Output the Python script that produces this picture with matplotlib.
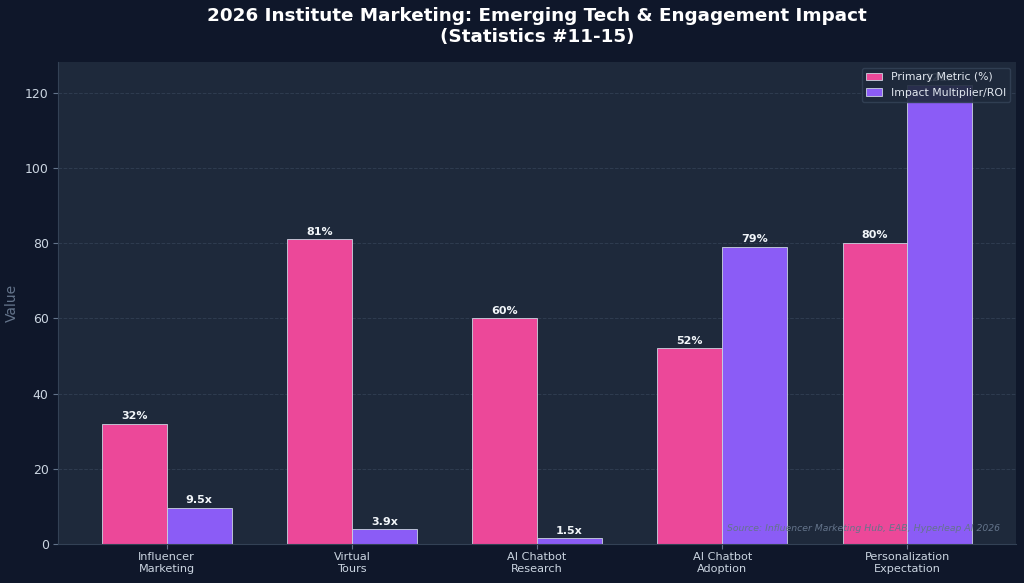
import matplotlib.pyplot as plt
import numpy as np

categories = ['Influencer\nMarketing', 'Virtual\nTours', 'AI Chatbot\nResearch',
              'AI Chatbot\nAdoption', 'Personalization\nExpectation']
primary = [32, 81, 60, 52, 80]
impact = [9.5, 3.9, 1.5, 79, 122]
primary_labels = ['32%', '81%', '60%', '52%', '80%']
impact_labels = ['9.5x', '3.9x', '1.5x', '79%', '122x']

bg = '#0f172a'
panel = '#1e293b'
pink = '#ec4899'
purple = '#8b5cf6'

fig, ax = plt.subplots(figsize=(10.24, 5.83), dpi=100)
fig.patch.set_facecolor(bg)
ax.set_facecolor(panel)

x = np.arange(len(categories))
w = 0.35
b1 = ax.bar(x - w / 2, primary, w, color=pink, edgecolor='#cbd5e1', linewidth=0.6,
            label='Primary Metric (%)')
b2 = ax.bar(x + w / 2, impact, w, color=purple, edgecolor='#cbd5e1', linewidth=0.6,
            label='Impact Multiplier/ROI')

for bars, labels in ((b1, primary_labels), (b2, impact_labels)):
    for bar, lab in zip(bars, labels):
        ax.annotate(lab, (bar.get_x() + bar.get_width() / 2, bar.get_height()),
                    xytext=(0, 2), textcoords='offset points', ha='center', va='bottom',
                    color='#f1f5f9', fontsize=8, fontweight='bold')

ax.set_xticks(x)
ax.set_xticklabels(categories, fontsize=8.1, linespacing=1.25)
ax.tick_params(axis='y', colors='#64748b', labelcolor='#cbd5e1', labelsize=9)
ax.tick_params(axis='x', colors='#64748b', labelcolor='#cbd5e1', pad=2)
ax.set_ylabel('Value', color='#64748b', fontsize=10)
ax.yaxis.grid(True, linestyle='--', color='#334155', linewidth=0.7, alpha=0.8)
ax.set_axisbelow(True)
for s in ('top', 'right'):
    ax.spines[s].set_visible(False)
for s in ('left', 'bottom'):
    ax.spines[s].set_color('#334155')

ax.set_title('2026 Institute Marketing: Emerging Tech & Engagement Impact\n(Statistics #11-15)',
             color='white', fontsize=13.2, fontweight='bold', pad=15)

leg = ax.legend(loc='upper right', fontsize=7.8, facecolor=panel, edgecolor='#334155',
                framealpha=0.9, labelcolor='#e2e8f0', handlelength=1.5)
leg.set_zorder(10)

ax.text(0.983, 0.022, 'Source: Influencer Marketing Hub, EAB, Hyperleap AI 2026',
        transform=ax.transAxes, ha='right', va='bottom', fontsize=6.7,
        style='italic', color='#64748b')

plt.subplots_adjust(left=0.057, right=0.992, top=0.893, bottom=0.067)
fig.savefig('out.png', dpi=100, facecolor=bg)
